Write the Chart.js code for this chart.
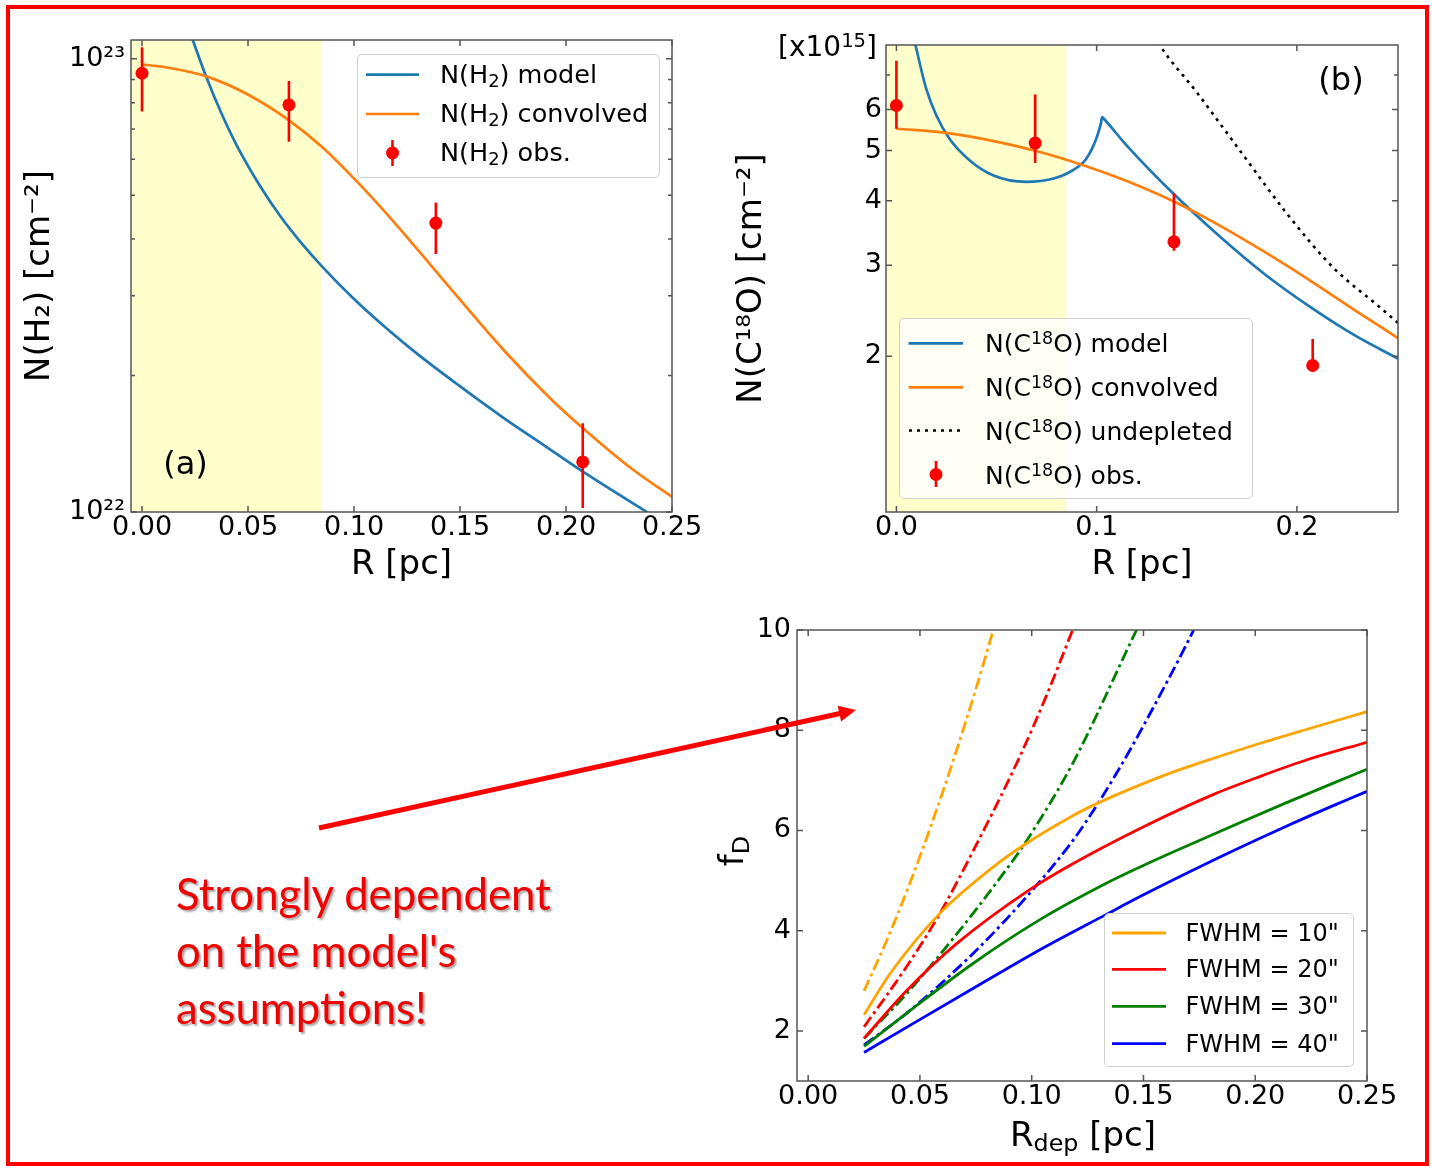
<!DOCTYPE html>
<html>
<head>
<meta charset="utf-8">
<title>Column density profiles and depletion factor</title>
<script src="https://cdn.jsdelivr.net/npm/chart.js@4.4.1/dist/chart.umd.min.js"></script>
<style>
html,body{margin:0;padding:0;background:#fff;}
#page{position:relative;width:1432px;height:1168px;overflow:hidden;background:#fff;font-family:'DejaVu Sans',sans-serif;color:#000;}
canvas{position:absolute;}
.lbox{position:absolute;box-sizing:border-box;background:rgba(255,255,255,0.8);border:1.3px solid #d0d0d0;border-radius:5px;z-index:1;}
.t{position:absolute;white-space:nowrap;line-height:1;z-index:3;}
.cy{transform:translateY(-50%);}
.cc{transform:translate(-50%,-50%);}
.sb{font-size:70%;position:relative;top:0.24em;}
.sp{font-size:70%;position:relative;top:-0.45em;}
#ov{position:absolute;left:0;top:0;z-index:2;pointer-events:none;}
#ann{position:absolute;left:176px;top:864px;color:#f00000;font-family:Lato,'Open Sans',sans-serif;font-size:44px;line-height:57px;white-space:nowrap;text-shadow:2px 2px 2px rgba(0,0,0,0.35);z-index:3;}
#frame{position:absolute;left:6px;top:5px;width:1422.5px;height:1161.3px;box-sizing:border-box;border:4.7px solid #ff0000;z-index:4;pointer-events:none;}
</style>
</head>
<body>
<div id="page">
  <canvas id="cA" width="716" height="600" style="left:0;top:0"></canvas>
  <canvas id="cB" width="716" height="600" style="left:716px;top:0"></canvas>
  <canvas id="cC" width="732" height="578" style="left:700px;top:590px"></canvas>

  <!-- legend frames -->
  <div class="lbox" style="left:357px;top:54px;width:303px;height:124px"></div>
  <div class="lbox" style="left:899px;top:318px;width:354px;height:181px"></div>
  <div class="lbox" style="left:1104px;top:913px;width:250px;height:154px"></div>

  <svg id="ov" width="1432" height="1168">
    <!-- legend (a) handles -->
    <line x1="366" y1="74.6" x2="419" y2="74.6" stroke="#1f77b4" stroke-width="2.7"/>
    <line x1="366" y1="114" x2="419" y2="114" stroke="#ff7f0e" stroke-width="2.7"/>
    <line x1="392.5" y1="140" x2="392.5" y2="166" stroke="#ff0000" stroke-width="2.6"/>
    <circle cx="392.5" cy="153" r="6.5" fill="#ff0000"/>
    <!-- legend (b) handles -->
    <line x1="908.5" y1="343.3" x2="963" y2="343.3" stroke="#1f77b4" stroke-width="2.7"/>
    <line x1="908.5" y1="387.3" x2="963" y2="387.3" stroke="#ff7f0e" stroke-width="2.7"/>
    <line x1="909" y1="430.5" x2="963" y2="430.5" stroke="#000" stroke-width="2.6" stroke-dasharray="3 5"/>
    <line x1="936" y1="461" x2="936" y2="487" stroke="#ff0000" stroke-width="2.6"/>
    <circle cx="936" cy="474.5" r="6.5" fill="#ff0000"/>
    <!-- legend (c) handles -->
    <line x1="1112" y1="933" x2="1166" y2="933" stroke="#ffa500" stroke-width="2.8"/>
    <line x1="1112" y1="969.4" x2="1166" y2="969.4" stroke="#ff0000" stroke-width="2.8"/>
    <line x1="1112" y1="1006.4" x2="1166" y2="1006.4" stroke="#008000" stroke-width="2.8"/>
    <line x1="1112" y1="1043.7" x2="1166" y2="1043.7" stroke="#0000ff" stroke-width="2.8"/>
    <!-- annotation arrow -->
    <line x1="319" y1="828" x2="840" y2="713.5" stroke="#ff0000" stroke-width="5"/>
    <polygon points="856,710 837.7,705.8 841.1,721.5" fill="#ff0000"/>
  </svg>

  <!-- legend texts -->
  <div class="t cy" style="left:440px;top:74.6px;font-size:25.5px">N(H<span class="sb">2</span>) model</div>
  <div class="t cy" style="left:440px;top:114px;font-size:25.5px">N(H<span class="sb">2</span>) convolved</div>
  <div class="t cy" style="left:440px;top:153px;font-size:25.5px">N(H<span class="sb">2</span>) obs.</div>

  <div class="t cy" style="left:985px;top:343.3px;font-size:25px">N(C<span class="sp">18</span>O) model</div>
  <div class="t cy" style="left:985px;top:387.3px;font-size:25px">N(C<span class="sp">18</span>O) convolved</div>
  <div class="t cy" style="left:985px;top:430.5px;font-size:25px">N(C<span class="sp">18</span>O) undepleted</div>
  <div class="t cy" style="left:985px;top:474.5px;font-size:25px">N(C<span class="sp">18</span>O) obs.</div>

  <div class="t cy" style="left:1185.5px;top:933px;font-size:24px">FWHM = 10"</div>
  <div class="t cy" style="left:1185.5px;top:969.4px;font-size:24px">FWHM = 20"</div>
  <div class="t cy" style="left:1185.5px;top:1006.4px;font-size:24px">FWHM = 30"</div>
  <div class="t cy" style="left:1185.5px;top:1043.7px;font-size:24px">FWHM = 40"</div>

  <!-- panel labels -->
  <div class="t cc" style="left:185.5px;top:463px;font-size:32px">(a)</div>
  <div class="t cc" style="left:1341px;top:79px;font-size:32px">(b)</div>
  <div class="t cy" style="left:778px;top:47px;font-size:28px">[x10<span class="sp">15</span>]</div>

  <!-- panel (c) axis titles -->
  <div class="t" style="left:731.4px;top:851px;font-size:34px;transform:translate(-50%,-50%) rotate(-90deg)">f<span class="sb">D</span></div>
  <div class="t cc" style="left:1083px;top:1133.5px;font-size:34px">R<span class="sb">dep</span> [pc]</div>

  <div id="ann">Strongly dependent<br>on the model's<br>assumptions!</div>
  <div id="frame"></div>
</div>

<script>
// ================= DATA =================
// shared radii of the observed points [pc]
const obsR = [0, 0.0693, 0.1386, 0.2079];
const shadeEndR = 0.085;   // edge of the shaded (depleted) zone [pc]

// ---- panel (a): N(H2) [cm^-2] ----
const aObsN  = [9.29e22, 7.91e22, 4.34e22, 1.29e22];
const aObsLo = [7.65e22, 6.56e22, 3.71e22, 1.02e22];
const aObsHi = [1.06e23, 8.93e22, 4.82e22, 1.57e22];
const aModelR = [0.020, 0.0239, 0.030, 0.0375, 0.0451, 0.055, 0.065, 0.075, 0.0852, 0.100, 0.115, 0.130, 0.1496, 0.170, 0.190, 0.210, 0.2384, 0.250];
const aModelN = [1.245e23, 1.102e23, 9.20e22, 7.57e22, 6.38e22, 5.30e22, 4.51e22, 3.93e22, 3.47e22, 2.95e22, 2.55e22, 2.23e22, 1.90e22, 1.62e22, 1.40e22, 1.21e22, 9.98e21, 9.23e21];
const aConvR = [0, 0.0105, 0.031, 0.0499, 0.0687, 0.0852, 0.1049, 0.1206, 0.1363, 0.1496, 0.1712, 0.193, 0.208, 0.232, 0.250];
const aConvN = [9.71e22, 9.59e22, 9.12e22, 8.34e22, 7.35e22, 6.37e22, 5.15e22, 4.27e22, 3.50e22, 2.955e22, 2.26e22, 1.774e22, 1.531e22, 1.236e22, 1.08e22];
const aXTicks  = [0, 0.05, 0.10, 0.15, 0.20, 0.25];
const aXLabels = ['0.00', '0.05', '0.10', '0.15', '0.20', '0.25'];
const aYTicks  = [1e22, 2e22, 3e22, 4e22, 5e22, 6e22, 7e22, 8e22, 9e22, 1e23];
const aYLabels = ['10²²', '', '', '', '', '', '', '', '', '10²³'];

// ---- panel (b): N(C18O) [1e15 cm^-2] ----
const bObsV  = [6.11, 5.17, 3.33, 1.92];
const bObsLo = [5.51, 4.73, 3.20, 1.90];
const bObsHi = [7.46, 6.42, 4.13, 2.16];
const bModelR = [0.0060, 0.0095, 0.0149, 0.0199, 0.0265, 0.0365, 0.0482, 0.0648, 0.0781, 0.0881, 0.0948, 0.0998, 0.1020, 0.1028, 0.1036, 0.1147, 0.1388, 0.1615, 0.1841, 0.2068, 0.2294, 0.2505];
const bModelV = [9.1, 8.0, 6.58, 5.85, 5.27, 4.79, 4.48, 4.35, 4.41, 4.58, 4.82, 5.27, 5.62, 5.80, 5.76, 5.13, 4.11, 3.41, 2.88, 2.49, 2.19, 1.98];
const bConvR = [0, 0.0249, 0.0449, 0.0698, 0.0914, 0.1147, 0.1388, 0.1615, 0.1841, 0.2068, 0.2294, 0.2505];
const bConvV = [5.51, 5.41, 5.25, 4.99, 4.71, 4.37, 3.98, 3.58, 3.18, 2.80, 2.45, 2.17];
const bUndepR = [0.125, 0.1315, 0.150, 0.1727, 0.1954, 0.2181, 0.2408, 0.2505];
const bUndepV = [8.9, 8.0, 6.48, 4.93, 3.76, 2.97, 2.50, 2.32];
const bXTicks  = [0, 0.1, 0.2];
const bXLabels = ['0.0', '0.1', '0.2'];
const bYTicks  = [2, 3, 4, 5, 6, 7];
const bYLabels = ['2', '3', '4', '5', '6', ''];

// ---- panel (c): depletion factor f_D vs R_dep ----
const fwhmLabels = ['FWHM = 10"', 'FWHM = 20"', 'FWHM = 30"', 'FWHM = 40"'];
const c10R = [0.025, 0.0366, 0.059, 0.0813, 0.0962, 0.1186, 0.1298, 0.1485, 0.1605, 0.1814, 0.2023, 0.2232, 0.25];
const c10F = [2.32, 3.14, 4.35, 5.22, 5.70, 6.30, 6.55, 6.91, 7.12, 7.44, 7.74, 8.02, 8.37];
const c20R = [0.025, 0.044, 0.0664, 0.0978, 0.1186, 0.1485, 0.1814, 0.2023, 0.2232, 0.25];
const c20F = [1.85, 2.80, 3.74, 4.78, 5.34, 6.04, 6.72, 7.08, 7.41, 7.76];
const c30R = [0.025, 0.044, 0.0739, 0.1037, 0.1336, 0.1485, 0.1709, 0.1918, 0.2127, 0.2336, 0.25];
const c30F = [1.69, 2.35, 3.35, 4.22, 4.95, 5.27, 5.72, 6.13, 6.53, 6.92, 7.22];
const c40R = [0.025, 0.044, 0.0739, 0.1037, 0.1336, 0.1485, 0.1709, 0.1918, 0.2127, 0.2336, 0.25];
const c40F = [1.57, 2.07, 2.85, 3.62, 4.33, 4.68, 5.18, 5.63, 6.06, 6.47, 6.78];
const c10dR = [0.025, 0.035, 0.045, 0.055, 0.065, 0.075, 0.0828, 0.088];
const c10dF = [2.80, 3.79, 4.89, 6.10, 7.41, 8.82, 10.0, 10.82];
const c20dR = [0.025, 0.044, 0.059, 0.0739, 0.094, 0.1065, 0.1183, 0.122];
const c20dF = [2.08, 3.28, 4.35, 5.60, 7.41, 8.68, 10.0, 10.42];
const c30dR = [0.025, 0.044, 0.0664, 0.0888, 0.0978, 0.1186, 0.1469, 0.150];
const c30dF = [1.85, 2.74, 3.93, 5.23, 5.80, 7.36, 10.0, 10.28];
const c40dR = [0.025, 0.044, 0.0739, 0.0978, 0.1186, 0.1298, 0.1395, 0.150, 0.172, 0.176];
const c40dF = [1.72, 2.35, 3.55, 4.68, 5.81, 6.55, 7.26, 8.09, 9.96, 10.34];
const cXTicks  = [0, 0.05, 0.10, 0.15, 0.20, 0.25];
const cXLabels = ['0.00', '0.05', '0.10', '0.15', '0.20', '0.25'];
const cYTicks  = [2, 4, 6, 8, 10];
const cYLabels = ['2', '4', '6', '8', '10'];

// ================= HELPERS =================
const pts = (xs, ys) => xs.map((x, i) => ({x: x, y: ys[i]}));
function errPts(xs, lo, hi) {
  const d = [];
  xs.forEach((x, i) => { d.push({x: x, y: lo[i]}, {x: x, y: hi[i]}, {x: x, y: null}); });
  return d;
}

Chart.defaults.font.family = "'DejaVu Sans', sans-serif";
Chart.defaults.color = '#000';

// inward tick marks on all four sides + axes frame, drawn from the chart's own scales
const frameTicks = {
  id: 'frameTicks',
  afterDatasetsDraw(chart) {
    const ctx = chart.ctx;
    const {left, right, top, bottom} = chart.chartArea;
    const xs = chart.scales.x, ys = chart.scales.y;
    ctx.save();
    ctx.strokeStyle = '#555';
    ctx.lineWidth = 1.5;
    ctx.beginPath();
    xs.ticks.forEach(t => {
      const p = xs.getPixelForValue(t.value);
      const L = t.label === '' ? 4 : 6;
      ctx.moveTo(p, bottom); ctx.lineTo(p, bottom - L);
      ctx.moveTo(p, top); ctx.lineTo(p, top + L);
    });
    ys.ticks.forEach(t => {
      const p = ys.getPixelForValue(t.value);
      const L = t.label === '' ? 4 : 6;
      ctx.moveTo(left, p); ctx.lineTo(left + L, p);
      ctx.moveTo(right, p); ctx.lineTo(right - L, p);
    });
    ctx.stroke();
    ctx.strokeRect(left, top, right - left, bottom - top);
    ctx.restore();
  }
};

function axisX(min, max, tv, tl, height, title) {
  return {
    type: 'linear', position: 'bottom', min: min, max: max,
    afterBuildTicks: s => { s.ticks = tv.map(v => ({value: v})); },
    afterFit: s => { s.height = height; },
    grid: {display: false, drawTicks: false}, border: {display: false},
    ticks: {autoSkip: false, maxRotation: 0, minRotation: 0, padding: 0, color: '#000',
            font: {size: 27}, callback: (v, i) => tl[i]},
    title: title ? {display: true, text: title, color: '#000', font: {size: 34, lineHeight: 1.2},
                    padding: {top: 0, bottom: 14.6}} : {display: false}
  };
}
function axisY(type, min, max, tv, tl, width, pad, title, titlePad) {
  return {
    type: type, position: 'left', min: min, max: max,
    afterBuildTicks: s => { s.ticks = tv.map(v => ({value: v})); },
    afterFit: s => { s.width = width; },
    grid: {display: false, drawTicks: false}, border: {display: false},
    ticks: {autoSkip: false, padding: pad, color: '#000', font: {size: 27}, callback: (v, i) => tl[i]},
    title: title ? {display: true, text: title, color: '#000', font: {size: 34, lineHeight: 1.2},
                    padding: {top: titlePad, bottom: 0}} : {display: false}
  };
}
function baseOptions(padding, scales) {
  return {
    responsive: false, animation: false, devicePixelRatio: 1,
    layout: {padding: padding},
    plugins: {legend: {display: false}, tooltip: {enabled: false}},
    elements: {point: {radius: 0, hoverRadius: 0}, line: {tension: 0}},
    scales: scales
  };
}
const curve = (label, data, color, width, extra) => Object.assign({
  label: label, data: data, borderColor: color, borderWidth: width, pointRadius: 0,
  fill: false, cubicInterpolationMode: 'monotone'
}, extra || {});

// ================= PANEL (a) =================
const A_XMIN = -0.0052, A_XMAX = 0.25, A_YMIN = 1e22, A_YMAX = 1.1e23;
new Chart(document.getElementById('cA'), {
  type: 'line',
  data: {datasets: [
    {label: 'N(H₂) obs.', data: pts(obsR, aObsN), showLine: false, pointRadius: 6.5,
     pointBackgroundColor: '#ff0000', pointBorderWidth: 0, order: 0},
    curve('N(H₂) obs. error', errPts(obsR, aObsLo, aObsHi), '#ff0000', 2.6, {cubicInterpolationMode: 'default', spanGaps: false, order: 1}),
    curve('N(H₂) convolved', pts(aConvR, aConvN), '#ff7f0e', 2.7, {order: 2}),
    curve('N(H₂) model', pts(aModelR, aModelN), '#1f77b4', 2.7, {order: 3}),
    {label: 'shaded zone', data: [{x: A_XMIN, y: A_YMAX}, {x: shadeEndR, y: A_YMAX}],
     borderColor: 'rgba(0,0,0,0)', borderWidth: 0, pointRadius: 0, fill: 'start',
     backgroundColor: '#ffffcc', order: 10}
  ]},
  options: baseOptions({left: 0, top: 40, right: 44, bottom: 0}, {
    x: axisX(A_XMIN, A_XMAX, aXTicks, aXLabels, 88, 'R [pc]'),
    y: axisY('logarithmic', A_YMIN, A_YMAX, aYTicks, aYLabels, 131, 6, 'N(H₂) [cm⁻²]', 19.6)
  }),
  plugins: [frameTicks]
});

// ================= PANEL (b) =================
const B_XMIN = -0.0052, B_XMAX = 0.2505, B_YMIN = 1, B_YMAX = 8;
new Chart(document.getElementById('cB'), {
  type: 'line',
  data: {datasets: [
    {label: 'N(C¹⁸O) obs.', data: pts(obsR, bObsV), showLine: false, pointRadius: 6.5,
     pointBackgroundColor: '#ff0000', pointBorderWidth: 0, order: 0},
    curve('N(C¹⁸O) obs. error', errPts(obsR, bObsLo, bObsHi), '#ff0000', 2.6, {cubicInterpolationMode: 'default', spanGaps: false, order: 1}),
    curve('N(C¹⁸O) undepleted', pts(bUndepR, bUndepV), '#000000', 2.6, {borderDash: [3, 5], order: 2}),
    curve('N(C¹⁸O) convolved', pts(bConvR, bConvV), '#ff7f0e', 2.7, {order: 3}),
    curve('N(C¹⁸O) model', pts(bModelR, bModelV), '#1f77b4', 2.7, {order: 4}),
    {label: 'shaded zone', data: [{x: B_XMIN, y: B_YMAX}, {x: shadeEndR, y: B_YMAX}],
     borderColor: 'rgba(0,0,0,0)', borderWidth: 0, pointRadius: 0, fill: 'start',
     backgroundColor: '#ffffcc', order: 10}
  ]},
  options: baseOptions({left: 0, top: 45, right: 34, bottom: 0}, {
    x: axisX(B_XMIN, B_XMAX, bXTicks, bXLabels, 88, 'R [pc]'),
    y: axisY('logarithmic', B_YMIN, B_YMAX, bYTicks, bYLabels, 170, 4, 'N(C¹⁸O) [cm⁻²]', 15.6)
  }),
  plugins: [frameTicks]
});

// ================= PANEL (c) =================
const C_XMIN = -0.005, C_XMAX = 0.25, C_YMIN = 1, C_YMAX = 10;
const dashDot = [12, 4, 3, 4];
new Chart(document.getElementById('cC'), {
  type: 'line',
  data: {datasets: [
    curve(fwhmLabels[0], pts(c10R, c10F), '#ffa500', 2.8),
    curve(fwhmLabels[1], pts(c20R, c20F), '#ff0000', 2.8),
    curve(fwhmLabels[2], pts(c30R, c30F), '#008000', 2.8),
    curve(fwhmLabels[3], pts(c40R, c40F), '#0000ff', 2.8),
    curve(fwhmLabels[0] + ' (dash-dot)', pts(c10dR, c10dF), '#ffa500', 2.8, {borderDash: dashDot}),
    curve(fwhmLabels[1] + ' (dash-dot)', pts(c20dR, c20dF), '#ff0000', 2.8, {borderDash: dashDot}),
    curve(fwhmLabels[2] + ' (dash-dot)', pts(c30dR, c30dF), '#008000', 2.8, {borderDash: dashDot}),
    curve(fwhmLabels[3] + ' (dash-dot)', pts(c40dR, c40dF), '#0000ff', 2.8, {borderDash: dashDot})
  ]},
  options: baseOptions({left: 0, top: 40, right: 65, bottom: 0}, {
    x: axisX(C_XMIN, C_XMAX, cXTicks, cXLabels, 87, null),
    y: axisY('linear', C_YMIN, C_YMAX, cYTicks, cYLabels, 97, 6, null, 0)
  }),
  plugins: [frameTicks]
});

// ================= annotation text sizing =================
(function () {
  const ann = document.getElementById('ann');
  const ctx = document.createElement('canvas').getContext('2d');
  const fam = "Lato, 'Open Sans', sans-serif";
  ctx.font = '44px ' + fam;
  const w = ctx.measureText('Strongly dependent').width || 376;
  const fs = 44 * 376 / w;
  ctx.font = fs + 'px ' + fam;
  const m = ctx.measureText('Strongly dependent');
  const asc = m.fontBoundingBoxAscent || fs * 0.987;
  const desc = m.fontBoundingBoxDescent || fs * 0.213;
  const baseOff = (57 - (asc + desc)) / 2 + asc;
  ann.style.fontSize = fs + 'px';
  ann.style.top = (910 - baseOff) + 'px';
})();
</script>
</body>
</html>
